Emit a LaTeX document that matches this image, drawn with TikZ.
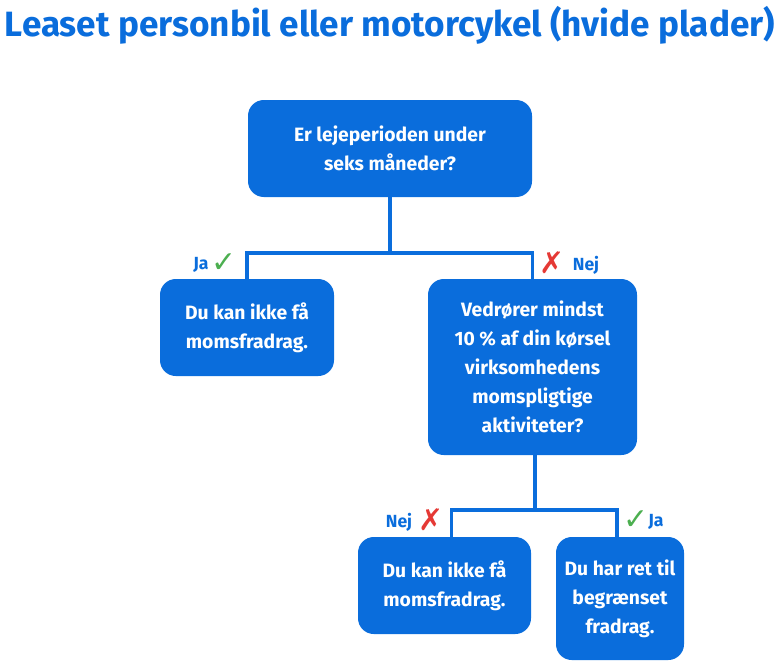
\documentclass[tikz,border=0pt]{standalone}
\usepackage{fontspec}
\setmainfont{Fira Sans}
\newfontfamily\symfont{DejaVu Sans}
\usetikzlibrary{positioning}
\definecolor{boxblue}{HTML}{0A6DDC}
\definecolor{okgreen}{HTML}{4CAF50}
\definecolor{nored}{HTML}{E53935}
\begin{document}
\begin{tikzpicture}[x=0.02cm,y=-0.02cm]
    \tikzstyle{box}=[rectangle,rounded corners=9pt,fill=boxblue,text=white,
      font=\bfseries\fontsize{11}{16.5}\selectfont,align=center,inner sep=4pt]
    \tikzstyle{link}=[draw=boxblue,line width=2.2pt]
    \tikzstyle{lbl}=[text=boxblue,font=\bfseries\fontsize{10}{12}\selectfont,inner sep=1pt]
    \tikzstyle{yes}=[text=okgreen,font=\symfont\fontsize{17}{17}\selectfont,inner sep=0pt]
    \tikzstyle{no}=[text=nored,font=\symfont\fontsize{17}{17}\selectfont,inner sep=0pt]
    \useasboundingbox (0,0) rectangle (780,670);

    % title
    \node[text=boxblue,font=\bfseries\fontsize{20}{24}\selectfont] (title) at (390,25)
      {Leaset personbil eller motorcykel (hvide plader)};

    % boxes
    \node[box,minimum width=284*0.02cm,minimum height=97*0.02cm] (Q-1) at (390,148.5)
      {Er lejeperioden under\\seks måneder?};
    \node[box,minimum width=174*0.02cm,minimum height=97*0.02cm] (A-1) at (247,327.5)
      {Du kan ikke få\\momsfradrag.};
    \node[box,minimum width=209*0.02cm,minimum height=176*0.02cm] (Q-2) at (532.5,367)
      {Vedrører mindst\\10 \% af din kørsel\\virksomhedens\\momspligtige\\aktiviteter?};
    \node[box,minimum width=173*0.02cm,minimum height=97*0.02cm] (A-2) at (444.5,585.5)
      {Du kan ikke få\\momsfradrag.};
    \node[box,minimum width=128*0.02cm,minimum height=123*0.02cm] (A-3) at (620,598.5)
      {Du har ret til\\begrænset\\fradrag.};

    % junctions
    \coordinate (J-1) at (390,253);
    \coordinate (J-2) at (535,510);

    % connectors
    \path[link] (Q-1.south) -- (J-1);
    \path[link] (J-1) -| (A-1.north);
    \path[link] (J-1) -| (Q-2.north);
    \path[link] (Q-2.south -| J-2) -- (J-2);
    \path[link] (J-2) -| ([xshift=7*0.02cm]A-2.north);
    \path[link] (J-2) -| ([xshift=-3*0.02cm]A-3.north);

    % labels
    \node[lbl] (L-1) at (201,265) {Ja};
    \node[yes] (C-1) at (224,263) {✓};
    \node[no]  (C-2) at (552,263) {✗};
    \node[lbl] (L-2) at (586,265) {Nej};
    \node[lbl] (L-3) at (399,522) {Nej};
    \node[no]  (C-3) at (431,520) {✗};
    \node[yes] (C-4) at (636,520) {✓};
    \node[lbl] (L-4) at (656,522) {Ja};
\end{tikzpicture}
\end{document}
